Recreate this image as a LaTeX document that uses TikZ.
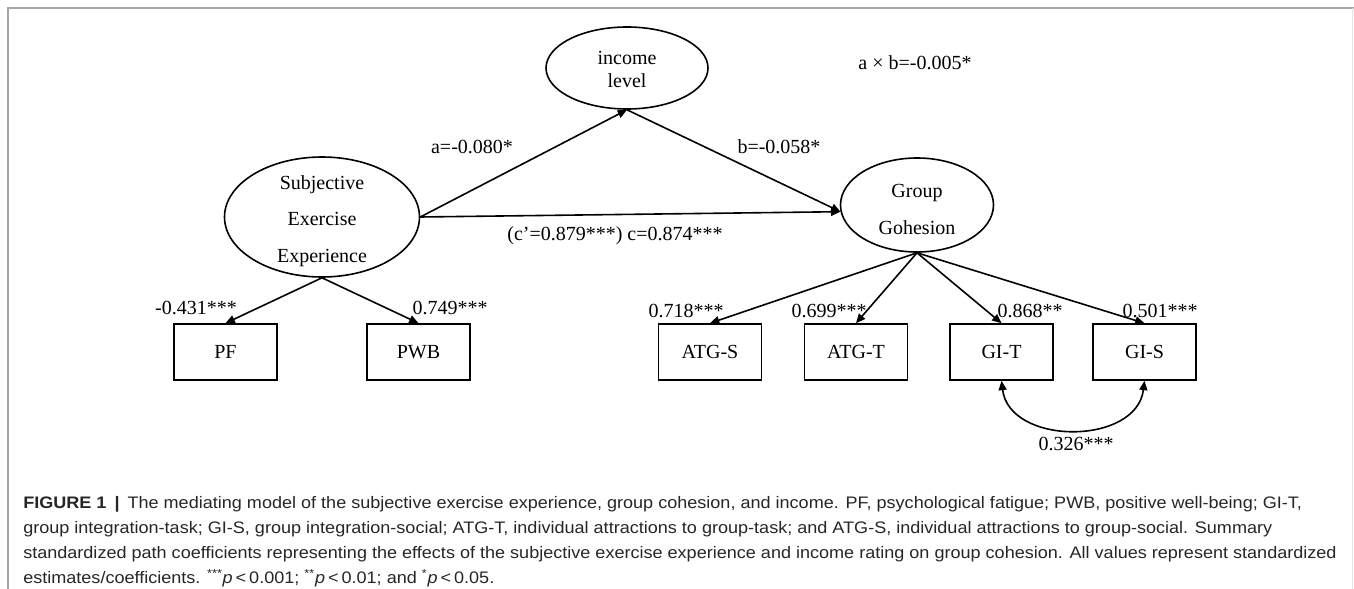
\documentclass[tikz,border=0pt]{standalone}
\usepackage{fontspec}
\usepackage{graphicx}
\setmainfont{Liberation Serif}
\newfontfamily\capfont{Liberation Sans}
\usetikzlibrary{shapes.geometric,arrows.meta}
\newcommand{\capfit}[1]{\scalebox{1.083}[1]{#1}}
\begin{document}
\begin{tikzpicture}[x=0.75pt,y=-0.75pt,
  lat/.style={ellipse,draw,line width=1.2pt,inner sep=0pt},
  lattext/.style={align=center,inner sep=0pt,font=\fontsize{15}{#1}\selectfont},
  obs/.style={rectangle,draw,line width=1.2pt,minimum width=77.25pt,minimum height=42pt,inner sep=0pt,font=\fontsize{15}{18}\selectfont},
  pathar/.style={line width=1.2pt,-{Triangle[length=7pt,width=6pt]}},
  coef/.style={font=\fontsize{15}{18}\selectfont,inner sep=0pt},
  capline/.style={anchor=base west,inner sep=0pt,font=\capfont\fontsize{12.5}{15}\selectfont,text=black!85}]
\useasboundingbox (0,0) rectangle (1354,589);
% frame
\draw[gray!70,line width=1.5pt] (7.5,589) -- (7.5,8) -- (1354,8);
\draw[gray!20,line width=0.75pt] (1352.5,8) -- (1352.5,589);
% latent variables
\node[lat,minimum width=121.5pt,minimum height=61.5pt] (inc) at (627,68) {};
\node[lattext=17.25pt] (inct) at (627,69) {income\\level};
\node[lat,minimum width=146.25pt,minimum height=90pt] (see) at (322,217) {};
\node[lattext=27.4pt] (seet) at (322,221) {Subjective\\Exercise\\Experience};
\node[lat,minimum width=114.75pt,minimum height=70.5pt] (gg) at (917,205) {};
\node[lattext=27.75pt] (ggt) at (917,209) {Group\\Gohesion};
% observed variables
\node[obs] (pf) at (225.5,352) {PF};
\node[obs] (pwb) at (418.5,352) {PWB};
\node[obs] (atgs) at (710,352) {ATG-S};
\node[obs] (atgt) at (856,352) {ATG-T};
\node[obs] (git) at (1001.5,352) {GI-T};
\node[obs] (gis) at (1144.5,352) {GI-S};
% paths
\draw[pathar] (see.east) -- (inc.south);
\draw[pathar] (inc.south) -- (gg.185);
\draw[pathar] (see.east) -- (gg.185);
\draw[pathar] (see.south) -- (pf.north);
\draw[pathar] (see.south) -- (pwb.north);
\draw[pathar] (gg.south) -- (atgs.north);
\draw[pathar] (gg.south) -- (atgt.north);
\draw[pathar] (gg.south) -- (git.north);
\draw[pathar] (gg.south) -- (gis.north);
\draw[line width=1.2pt,{Triangle[length=7pt,width=6pt]}-{Triangle[length=7pt,width=6pt]}]
  (git.south) .. controls +(8,65) and +(-8,65) .. (gis.south);
% coefficients
\node[coef] (ab) at (915,63) {a × b=-0.005*};
\node[coef] (la) at (472,147) {a=-0.080*};
\node[coef] (lb) at (779,147) {b=-0.058*};
\node[coef] (lc) at (615,236) {(c{\char"0027}=0.879***) c=0.874***};
\node[coef] (l1) at (196,308) {-0.431***};
\node[coef] (l2) at (450,308) {0.749***};
\node[coef] (l3) at (686,311) {0.718***};
\node[coef] (l4) at (829,311) {0.699***};
\node[coef] (l5) at (1030,311) {0.868**};
\node[coef] (l6) at (1160,311) {0.501***};
\node[coef] (l7) at (1076,444) {0.326***};
% caption
\node[capline] (c1) at (23,508) {\capfit{\textbf{FIGURE 1 \,|\,} The mediating model of the subjective exercise experience, group cohesion, and income. PF, psychological fatigue; PWB, positive well-being; GI-T,}};
\node[capline] (c2) at (23,533) {\capfit{group integration-task; GI-S, group integration-social; ATG-T, individual attractions to group-task; and ATG-S, individual attractions to group-social. Summary}};
\node[capline] (c3) at (23,558) {\capfit{standardized path coefficients representing the effects of the subjective exercise experience and income rating on group cohesion. All values represent standardized}};
\node[capline] (c4) at (23,583) {\capfit{estimates/coefficients. \textsuperscript{***}\textit{p}\,<\,0.001; \textsuperscript{**}\textit{p}\,<\,0.01; and \textsuperscript{*}\textit{p}\,<\,0.05.}};
\end{tikzpicture}
\end{document}
